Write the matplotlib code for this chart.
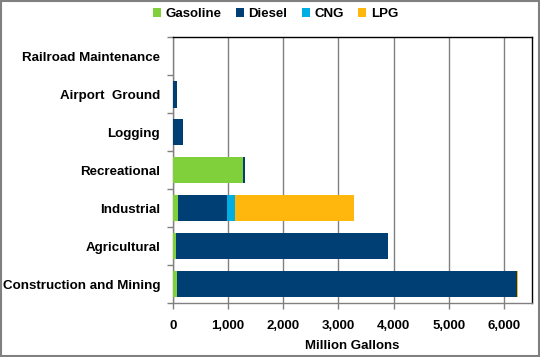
import matplotlib
matplotlib.use("Agg")
import matplotlib.pyplot as plt
import numpy as np
from matplotlib.ticker import FuncFormatter, FixedLocator

categories = ["Construction and Mining", "Agricultural", "Industrial", "Recreational",
              "Logging", "Airport  Ground", "Railroad Maintenance"]
gasoline = [80, 60, 100, 1273, 0, 0, 0]
diesel = [6150, 3835, 890, 42, 193, 80, 3]
cng = [0, 0, 144, 0, 0, 0, 0]
lpg = [10, 0, 2146, 0, 0, 0, 0]
series_names = ["Gasoline", "Diesel", "CNG", "LPG"]
colors = ["#80D03C", "#003F74", "#00AEE2", "#FFB70D"]

plt.rcParams['font.family'] = ['Liberation Sans', 'DejaVu Sans']
plt.rcParams['font.weight'] = 'bold'

fig = plt.figure(figsize=(5.4, 3.57), dpi=100)
ax = fig.add_axes([0.3198, 0.1513, 0.985 - 0.3198, 0.8955 - 0.1513])

y = np.arange(len(categories))
left = np.zeros(len(categories))
handles = []
for vals, name, c in zip([gasoline, diesel, cng, lpg], series_names, colors):
    h = ax.barh(y, vals, left=left, height=0.7, color=c, label=name, zorder=3)
    handles.append(h)
    left = left + np.array(vals)

ax.set_xlim(0, 6500)
ax.set_ylim(-0.5, len(categories) - 0.5)
ax.set_xticks([0, 1000, 2000, 3000, 4000, 5000, 6000])
ax.xaxis.set_major_formatter(FuncFormatter(lambda v, p: f"{int(v):,}"))
ax.grid(axis='x', color='#808080', linewidth=1, zorder=0)
ax.set_yticks(y)
ax.set_yticklabels(categories)
ax.yaxis.set_minor_locator(FixedLocator(np.arange(-0.5, len(categories), 1.0)))
ax.tick_params(axis='y', which='major', length=0, pad=9, labelsize=9.6)
ax.tick_params(axis='y', which='minor', length=4, color='#808080', width=1)
ax.tick_params(axis='x', which='major', length=4, color='#808080', width=1, labelsize=9.5, pad=8)
for lab in ax.get_xticklabels() + ax.get_yticklabels():
    lab.set_fontweight('bold')

for s in ['left', 'bottom']:
    ax.spines[s].set_color('#808080')
    ax.spines[s].set_linewidth(1)
for s in ['top', 'right']:
    ax.spines[s].set_color('black')
    ax.spines[s].set_linewidth(1)

ax.set_xlabel("Million Gallons", fontsize=9.5, fontweight='bold', labelpad=6)

leg = fig.legend(handles=handles, labels=series_names, loc='upper center',
                 bbox_to_anchor=(0.51, 1.01), ncol=4, frameon=False,
                 fontsize=9.5, handlelength=0.6, handleheight=0.6,
                 handletextpad=0.35, columnspacing=1.1)
for t in leg.get_texts():
    t.set_fontweight('bold')

# figure border
border = plt.Rectangle((0.001, 0.002), 0.997, 0.996, transform=fig.transFigure,
                       fill=False, edgecolor='#808080', linewidth=1.5)
fig.patches.append(border)

fig.savefig("out.png", dpi=100)
